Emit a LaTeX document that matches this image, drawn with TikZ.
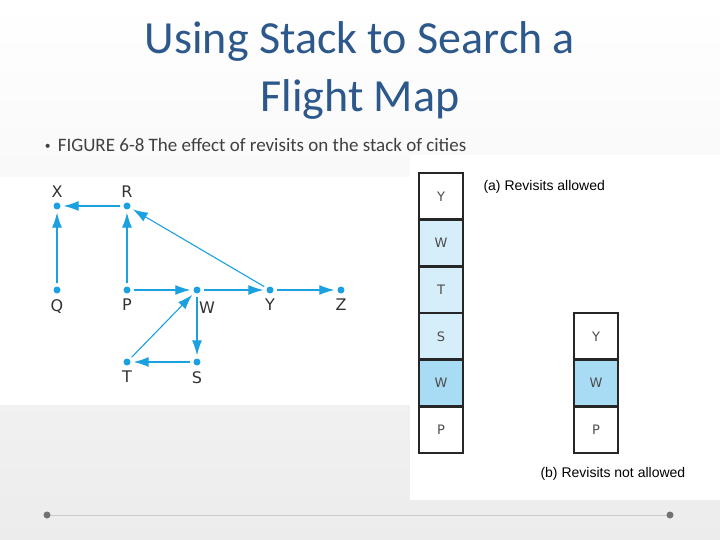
\documentclass[tikz,border=0pt]{standalone}
\usepackage{fontspec}
\usetikzlibrary{arrows.meta,positioning}
\setmainfont{Carlito}
\newfontfamily\arialf{Liberation Sans}
\newfontfamily\djv{DejaVu Sans}
\definecolor{edgeblue}{RGB}{27,161,226}
\definecolor{titleblue}{RGB}{44,88,140}
\definecolor{lightcell}{RGB}{214,238,250}
\definecolor{midcell}{RGB}{168,219,244}
\definecolor{bggray}{RGB}{236,236,236}
\begin{document}
\begin{tikzpicture}[x=1pt,y=-1pt,
  city/.style={circle,fill=edgeblue,inner sep=0pt,minimum size=7pt},
  lab/.style={font=\djv\fontsize{16}{16}\selectfont,text=black!80},
  edge/.style={draw=edgeblue,line width=1.1pt,-{Latex[length=15pt,width=10pt]},shorten >=3pt,shorten <=3pt},
  cell/.style={draw=black!85,line width=2.5pt,minimum width=44pt,minimum height=46.7pt,inner sep=0pt,font=\djv\fontsize{13}{13}\selectfont,text=black!70},
  captxt/.style={font=\arialf\fontsize{14}{14}\selectfont,anchor=west}]
\useasboundingbox (0,0) rectangle (720,540);
\shade[top color=white,bottom color=bggray] (0,0) rectangle (720,540);
\fill[white] (0,177) rectangle (415,405);
\fill[white] (410,155) rectangle (720,500);
% title
\node[text=titleblue,font=\fontsize{46}{58}\selectfont,align=center] (title) at (360,70) {Using Stack to Search a\\Flight Map};
\node[anchor=west,text=black!75,font=\fontsize{19}{19}\selectfont] (sub) at (40,145) {\djv\fontsize{14}{14}\selectfont•\hspace{6pt}\normalfont\fontsize{19}{19}\selectfont FIGURE 6-8 The effect of revisits on the stack of cities};
% graph
\node[city] (X) at (57,206) {};
\node[city] (R) at (127,206) {};
\node[city] (Q) at (57,290) {};
\node[city] (P) at (127,290) {};
\node[city] (W) at (197,290) {};
\node[city] (Y) at (270,290) {};
\node[city] (Z) at (341,290) {};
\node[city] (T) at (127,362) {};
\node[city] (S) at (197,362) {};
\node[lab,above=1pt of X] (lX) {X};
\node[lab,above=1pt of R] (lR) {R};
\node[lab,below=2pt of Q] (lQ) {Q};
\node[lab,below=2pt of P] (lP) {P};
\node[lab] (lW) at (207,308) {W};
\node[lab,below=2pt of Y] (lY) {Y};
\node[lab,below=2pt of Z] (lZ) {Z};
\node[lab,below=2pt of T] (lT) {T};
\node[lab,below=2pt of S] (lS) {S};
\path[edge] (R) -- (X);
\path[edge] (Q) -- (X);
\path[edge] (P) -- (R);
\path[edge] (P) -- (W);
\path[edge] (W) -- (Y);
\path[edge] (Y) -- (Z);
\path[edge] (Y) -- (R);
\path[edge] (W) -- (S);
\path[edge] (S) -- (T);
\path[edge] (T) -- (W);
% stacks
\node[cell,fill=white] (a1) at (441,196.3) {Y};
\node[cell,fill=lightcell] (a2) at (441,243) {W};
\node[cell,fill=lightcell] (a3) at (441,289.7) {T};
\node[cell,fill=lightcell] (a4) at (441,336.3) {S};
\node[cell,fill=midcell] (a5) at (441,383) {W};
\node[cell,fill=white] (a6) at (441,429.7) {P};
\node[cell,fill=white] (b1) at (596,336.3) {Y};
\node[cell,fill=midcell] (b2) at (596,383) {W};
\node[cell,fill=white] (b3) at (596,429.7) {P};
\node[captxt] (capa) at (480,187) {(a) Revisits allowed};
\node[captxt] (capb) at (537,474) {(b) Revisits not allowed};
% bottom bullets
\draw[black!20,line width=0.6pt] (47,515) -- (670,515);
\fill[black!55] (47,515) circle (3.5pt);
\fill[black!55] (670,515) circle (3.5pt);
\end{tikzpicture}
\end{document}
